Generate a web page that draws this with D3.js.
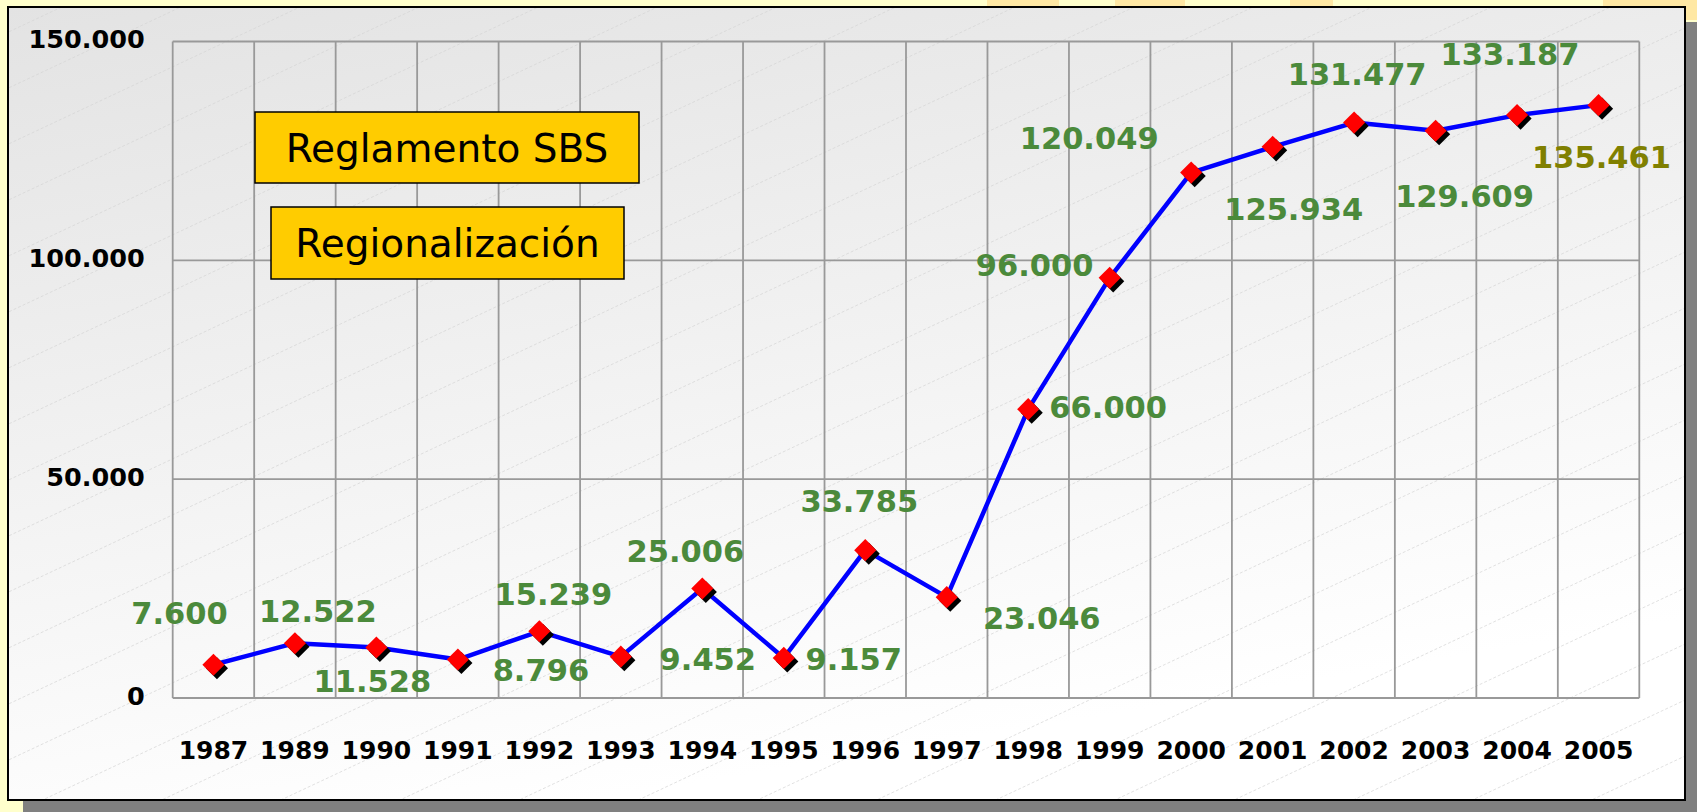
<!DOCTYPE html>
<html>
<head>
<meta charset="utf-8">
<script src="https://cdn.jsdelivr.net/npm/d3@7.9.0/dist/d3.min.js"></script>
<style>
  html, body { margin: 0; padding: 0; background: #ffffcc; overflow: hidden; }
  svg { display: block; }
  .num { font-family: "DejaVu Sans", sans-serif; font-weight: bold; }
</style>
</head>
<body>
<svg id="chart" width="1697" height="812"></svg>
<script>
// data
const years = ['1987', '1989', '1990', '1991', '1992', '1993', '1994', '1995', '1996',
  '1997', '1998', '1999', '2000', '2001', '2002', '2003', '2004', '2005'];
const values = [7600, 12522, 11528, 8796, 15239, 9452, 25006, 9157, 33785,
  23046, 66000, 96000, 120049, 125934, 131477, 129609, 133187, 135461];
const yTicks = [0, 50000, 100000, 150000];
const notes = ['Reglamento SBS', 'Regionalización'];

// where each value label sits relative to its point (px)
const labelOffsets = [
  [-34, -41], [23, -21], [-4, 44], [83, 21], [14, -26], [87, 13],
  [-17, -27], [70, 12], [-6, -38], [95, 32], [80, 9], [-75, -2],
  [-102, -24], [21, 73], [3, -38], [29, 76], [-7, -50], [3, 63]
];

const fmt = (v) => d3.format(',')(v).replace(/,/g, '.');

const W = 1697, H = 812;
const panel = { x: 8, y: 7, w: 1677, h: 793 };
const plot = { left: 172.7, right: 1639.3, top: 41.5, bottom: 698 };

const svg = d3.select('#chart');
const defs = svg.append('defs');

const grad = defs.append('linearGradient')
  .attr('id', 'panelGrad')
  .attr('x1', 0).attr('y1', 0).attr('x2', 0.35).attr('y2', 1);
grad.append('stop').attr('offset', 0).attr('stop-color', '#e3e3e3');
grad.append('stop').attr('offset', 1).attr('stop-color', '#ffffff');

defs.append('clipPath').attr('id', 'panelClip')
  .append('rect')
  .attr('x', panel.x).attr('y', panel.y)
  .attr('width', panel.w).attr('height', panel.h);

// slide background bits along the top
svg.append('rect').attr('width', W).attr('height', H).attr('fill', '#ffffcc');
[[987, 72], [1115, 70], [1290, 43], [1603, 94]].forEach(([x, w]) => {
  svg.append('rect').attr('x', x).attr('y', 0).attr('width', w).attr('height', 20)
    .attr('fill', '#ffe8a4');
});

// shadow + panel
svg.append('rect')
  .attr('x', panel.x + 15).attr('y', panel.y + 15)
  .attr('width', panel.w).attr('height', panel.h)
  .attr('fill', '#808080');
svg.append('rect')
  .attr('x', panel.x).attr('y', panel.y)
  .attr('width', panel.w).attr('height', panel.h)
  .attr('fill', 'url(#panelGrad)');

// faint diagonal hatching
const hatch = svg.append('g').attr('clip-path', 'url(#panelClip)');
const slope = 0.47;
for (let y0 = -20; y0 < H + W * slope; y0 += 56) {
  hatch.append('line')
    .attr('x1', 0).attr('y1', y0)
    .attr('x2', W).attr('y2', y0 - W * slope)
    .attr('stroke', '#d4d4d4')
    .attr('stroke-width', 0.7)
    .attr('stroke-dasharray', '3,2');
}

svg.append('rect')
  .attr('x', panel.x).attr('y', panel.y)
  .attr('width', panel.w).attr('height', panel.h)
  .attr('fill', 'none').attr('stroke', '#000').attr('stroke-width', 2);

const x = d3.scaleBand().domain(years).range([plot.left, plot.right]);
const y = d3.scaleLinear().domain([0, 150000]).range([plot.bottom, plot.top]);
const cx = (d, i) => x(years[i]) + x.bandwidth() / 2;

// grid
const grid = svg.append('g').attr('stroke', '#999999').attr('stroke-width', 1.8);
grid.selectAll('line.v')
  .data(years.concat(['end']))
  .join('line')
  .attr('class', 'v')
  .attr('x1', (d, i) => plot.left + i * x.bandwidth())
  .attr('x2', (d, i) => plot.left + i * x.bandwidth())
  .attr('y1', plot.top).attr('y2', plot.bottom);
grid.selectAll('line.h')
  .data(yTicks)
  .join('line')
  .attr('class', 'h')
  .attr('x1', plot.left).attr('x2', plot.right)
  .attr('y1', (d) => y(d)).attr('y2', (d) => y(d));

// y axis labels
const yAxis = d3.axisLeft(y).tickValues(yTicks).tickFormat(fmt).tickSize(0).tickPadding(28);
svg.append('g')
  .attr('transform', `translate(${plot.left},0)`)
  .call(yAxis)
  .call((g) => g.select('.domain').remove())
  .call((g) => g.selectAll('text')
    .attr('class', 'num')
    .attr('font-size', 25.5)
    .attr('fill', '#000')
    .attr('dy', '0.24em'));

// x axis labels
const xAxis = d3.axisBottom(x).tickSize(0).tickPadding(43);
svg.append('g')
  .attr('transform', `translate(0,${plot.bottom})`)
  .call(xAxis)
  .call((g) => g.select('.domain').remove())
  .call((g) => g.selectAll('text')
    .attr('class', 'num')
    .attr('font-size', 25)
    .attr('fill', '#000'));

// note boxes
const noteBoxes = [
  { x: 255, y: 112, w: 384, h: 71 },
  { x: 271, y: 207, w: 353, h: 72 }
];
notes.forEach((t, i) => {
  const b = noteBoxes[i];
  svg.append('rect')
    .attr('x', b.x).attr('y', b.y).attr('width', b.w).attr('height', b.h)
    .attr('fill', '#ffcc00').attr('stroke', '#000').attr('stroke-width', 1.5);
  svg.append('text')
    .attr('x', b.x + b.w / 2).attr('y', b.y + b.h / 2)
    .attr('dy', '0.36em')
    .attr('text-anchor', 'middle')
    .attr('font-family', '"DejaVu Sans", sans-serif')
    .attr('font-size', 39)
    .attr('fill', '#000')
    .text(t);
});

// line
const line = d3.line().x(cx).y((d) => y(d));
svg.append('path')
  .datum(values)
  .attr('d', line)
  .attr('fill', 'none')
  .attr('stroke', '#0000ff')
  .attr('stroke-width', 4.5)
  .attr('stroke-linejoin', 'round');

// markers
const sym = d3.symbol().type(d3.symbolSquare).size(245);
svg.append('g').selectAll('path')
  .data(values)
  .join('path')
  .attr('d', sym)
  .attr('transform', (d, i) => `translate(${cx(d, i) + 3.5},${y(d) + 3.5}) rotate(45)`)
  .attr('fill', '#000');
svg.append('g').selectAll('path')
  .data(values)
  .join('path')
  .attr('d', sym)
  .attr('transform', (d, i) => `translate(${cx(d, i)},${y(d)}) rotate(45)`)
  .attr('fill', '#ff0000');

// value labels
svg.append('g').selectAll('text')
  .data(values)
  .join('text')
  .attr('class', 'num')
  .attr('font-size', 30.5)
  .attr('text-anchor', 'middle')
  .attr('x', (d, i) => cx(d, i) + labelOffsets[i][0])
  .attr('y', (d, i) => y(d) + labelOffsets[i][1])
  .attr('fill', (d, i) => (i === values.length - 1 ? '#808000' : '#4b8a3b'))
  .text(fmt);
</script>
</body>
</html>
